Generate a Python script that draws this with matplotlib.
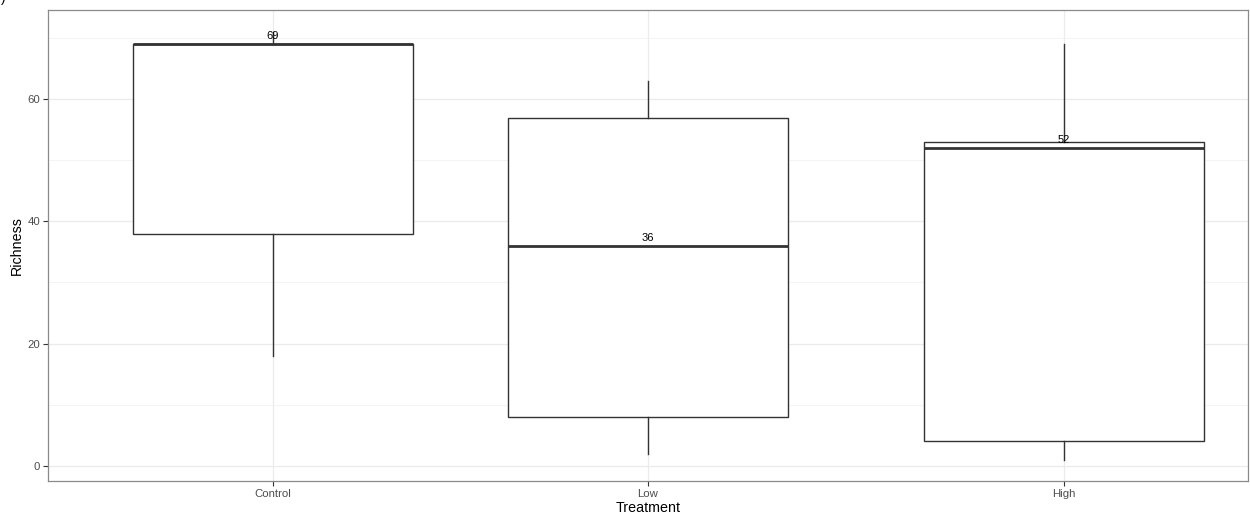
import matplotlib
matplotlib.use("Agg")
import matplotlib.pyplot as plt
import numpy as np

plt.rcParams["font.family"] = ["Liberation Sans", "DejaVu Sans"]

# ---- data ----
categories = ["Control", "Low", "High"]
whisker_low = [18, 2, 1]
q1 = [38, 8, 4]
medians = [69, 36, 52]
q3 = [69, 57, 53]
whisker_high = [71, 63, 69]
median_labels = ["69", "36", "52"]
y_ticks = [0, 20, 40, 60]
y_minor = [10, 30, 50, 70]

# ---- layout ----
positions = [1.0, 2.0, 3.11]
W, H, DPI = 1250, 519, 100
fig = plt.figure(figsize=(W / DPI, H / DPI), dpi=DPI)
ax = fig.add_axes([48 / W, (H - 481) / H, 1200 / W, 471 / H])

stats = []
for i, c in enumerate(categories):
    stats.append(dict(label=c, whislo=whisker_low[i], q1=q1[i], med=medians[i],
                      q3=q3[i], whishi=whisker_high[i], fliers=[]))

line_col = "#333333"
ax.bxp(stats, positions=positions, widths=0.747, showfliers=False, showcaps=False,
       patch_artist=True,
       boxprops=dict(facecolor="white", edgecolor=line_col, linewidth=1.0),
       whiskerprops=dict(color=line_col, linewidth=1.0),
       medianprops=dict(color=line_col, linewidth=2.0),
       zorder=3)

for i, lab in enumerate(median_labels):
    ax.annotate(lab, xy=(positions[i], medians[i]), xytext=(0, 2.0),
                textcoords="offset points", ha="center", va="bottom",
                fontsize=8, color="black", zorder=5)

ax.set_xlim(0.4, 3.6)
ax.set_ylim(-2.5, 74.6)
ax.set_xticks(positions)
ax.set_xticklabels(categories)
ax.set_yticks(y_ticks)
ax.set_yticks(y_minor, minor=True)
ax.tick_params(axis="both", which="major", length=3.5, width=0.8, color="#333333",
               labelsize=8.2, labelcolor="#4D4D4D", pad=2)
ax.tick_params(axis="both", which="minor", length=0)
ax.grid(which="major", color="#EBEBEB", linewidth=0.9, zorder=0)
ax.grid(which="minor", axis="y", color="#F3F3F3", linewidth=0.6, zorder=0)
ax.set_axisbelow(True)
for s in ax.spines.values():
    s.set_color("#8A8A8A")
    s.set_linewidth(0.9)

ax.set_xlabel("Treatment", fontsize=10.3, color="black", labelpad=2)
ax.set_ylabel("Richness", fontsize=10.3, color="black", labelpad=3)

fig.text(0.001, 1.004, ")", fontsize=10, color="black", ha="left", va="center")

fig.savefig("out.png", dpi=DPI)
